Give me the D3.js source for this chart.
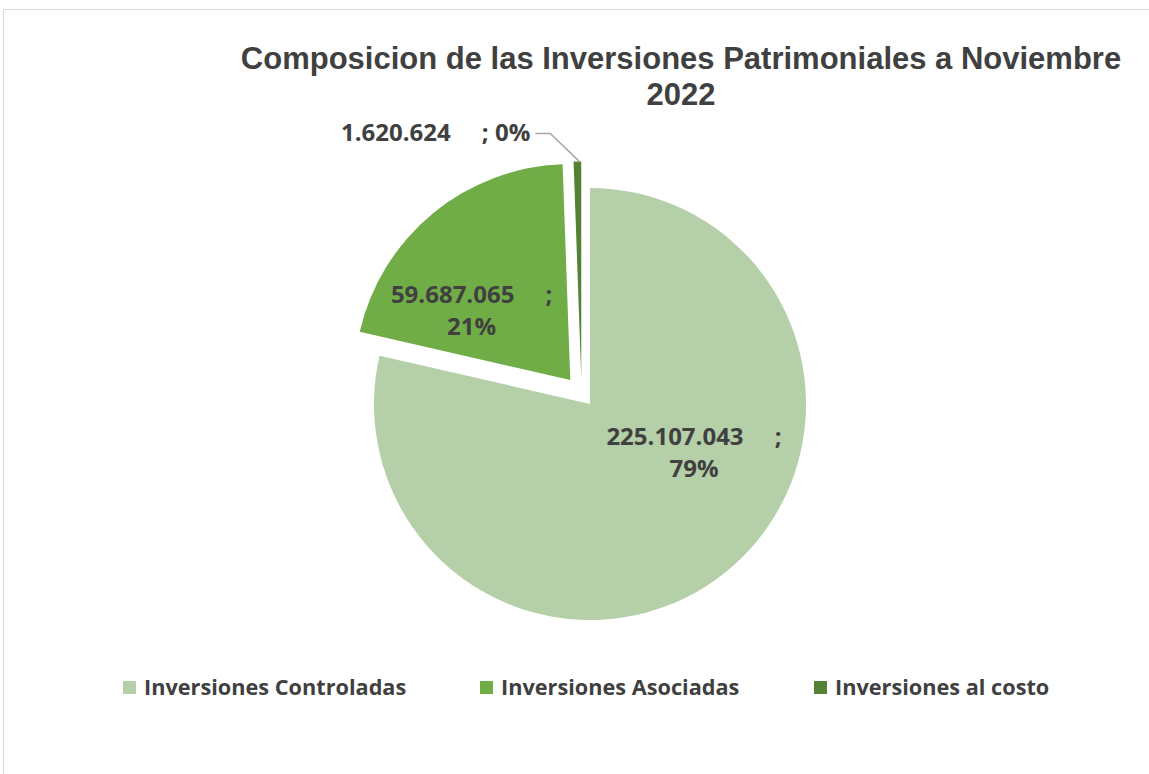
<!DOCTYPE html>
<html>
<head>
<meta charset="utf-8">
<script src="https://cdn.jsdelivr.net/npm/d3@7/dist/d3.min.js"></script>
<style>
  body { margin: 0; background: #fff; }
  svg { display: block; }
  text { fill: #404040; }
</style>
</head>
<body>
<div id="chart"></div>
<script>
'use strict';

// data
let categories = ['Inversiones Controladas', 'Inversiones Asociadas', 'Inversiones al costo'];
let values = [225107043, 59687065, 1620624];
let percentLabels = ['79%', '21%', '0%'];
let titleLines = ['Composicion de las Inversiones Patrimoniales a Noviembre', '2022'];

let colors = ['#b5cfa8', '#70ad47', '#548235'];

let width = 1149, height = 774;
let cx = 590, cy = 404, radius = 216;

// explode distance and direction tweak (radians) for each slice
let explode = [
    {dist: 0, turn: 0},
    {dist: 31, turn: 0},
    {dist: 28, turn: -0.3}
];

let svg = d3.select('#chart').append('svg')
    .attr('width', width)
    .attr('height', height);

// chart frame (right and bottom are cut off in the picture)
svg.append('path')
    .attr('d', 'M3.5,' + height + 'V9.5H' + width)
    .attr('fill', 'none')
    .attr('stroke', '#d9d9d9')
    .attr('stroke-width', 1);

// title
svg.append('text')
    .attr('x', 681)
    .attr('y', 69)
    .attr('text-anchor', 'middle')
    .style('font-family', '"Liberation Sans", Arial, sans-serif')
    .style('font-weight', 'bold')
    .style('font-size', '31px')
    .selectAll('tspan')
    .data(titleLines)
    .enter().append('tspan')
    .attr('x', 681)
    .attr('dy', function(d, i) { return i === 0 ? 0 : 36; })
    .text(function(d) { return d; });

let pie = d3.pie().sort(null).value(function(d) { return d; });
let arcs = pie(values);
let arc = d3.arc().innerRadius(0).outerRadius(radius);

let fmt = function(v) { return d3.format(',')(v).replace(/,/g, '.'); };
let gap = '\u00a0\u00a0\u00a0\u00a0\u00a0';

// offset of each slice from the pie centre
function sliceShift(d, i) {
    let a = (d.startAngle + d.endAngle) / 2 + explode[i].turn;
    return [Math.sin(a) * explode[i].dist, -Math.cos(a) * explode[i].dist];
}

let g = svg.append('g')
    .attr('transform', 'translate(' + cx + ',' + cy + ')');

g.selectAll('path.slice')
    .data(arcs)
    .enter().append('path')
    .attr('class', 'slice')
    .attr('transform', function(d, i) {
        let s = sliceShift(d, i);
        return 'translate(' + s[0] + ',' + s[1] + ')';
    })
    .attr('d', arc)
    .attr('fill', function(d, i) { return colors[i]; });

let labelFont = '"Open Sans", "Noto Sans", sans-serif';

// inside labels for the two big slices, placed relative to the slice centroid
let labelNudge = [[30, -52], [-23, 14]];
let labelArc = d3.arc().innerRadius(radius * 0.55).outerRadius(radius * 0.55);

arcs.slice(0, 2).forEach(function(d, i) {
    let s = sliceShift(d, i);
    let c = labelArc.centroid(d);
    let lx = c[0] + s[0] + labelNudge[i][0];
    let ly = c[1] + s[1] + labelNudge[i][1];
    let t = g.append('text')
        .attr('text-anchor', 'middle')
        .style('font-family', labelFont)
        .style('font-weight', 'bold')
        .style('font-size', '24px');
    t.append('tspan')
        .attr('x', lx)
        .attr('y', ly)
        .text(fmt(values[i]) + gap + ';');
    t.append('tspan')
        .attr('x', lx)
        .attr('dy', 32)
        .text(percentLabels[i]);
});

// outside label with leader line for the small slice
let small = arcs[2];
let ss = sliceShift(small, 2);
let tip = [ss[0] - 2, ss[1] - radius];
let elbow = [tip[0] - 29, tip[1] - 28];
let lineEnd = [elbow[0] - 15, elbow[1]];

g.append('polyline')
    .attr('points', [tip, elbow, lineEnd].map(function(p) { return p.join(','); }).join(' '))
    .attr('fill', 'none')
    .attr('stroke', '#a6a6a6')
    .attr('stroke-width', 1.5);

g.append('text')
    .attr('x', lineEnd[0] - 5)
    .attr('y', lineEnd[1] + 8)
    .attr('text-anchor', 'end')
    .style('font-family', labelFont)
    .style('font-weight', 'bold')
    .style('font-size', '24px')
    .text(fmt(values[2]) + gap + '; ' + percentLabels[2]);

// legend
let legendX = [123, 480, 814];
let legend = svg.append('g')
    .attr('transform', 'translate(0,' + 681 + ')');

let items = legend.selectAll('g')
    .data(categories)
    .enter().append('g')
    .attr('transform', function(d, i) { return 'translate(' + legendX[i] + ',0)'; });

items.append('rect')
    .attr('width', 13)
    .attr('height', 13)
    .attr('fill', function(d, i) { return colors[i]; });

items.append('text')
    .attr('x', 21)
    .attr('y', 14)
    .style('font-family', labelFont)
    .style('font-weight', 'bold')
    .style('font-size', '21.7px')
    .text(function(d) { return d; });
</script>
</body>
</html>
